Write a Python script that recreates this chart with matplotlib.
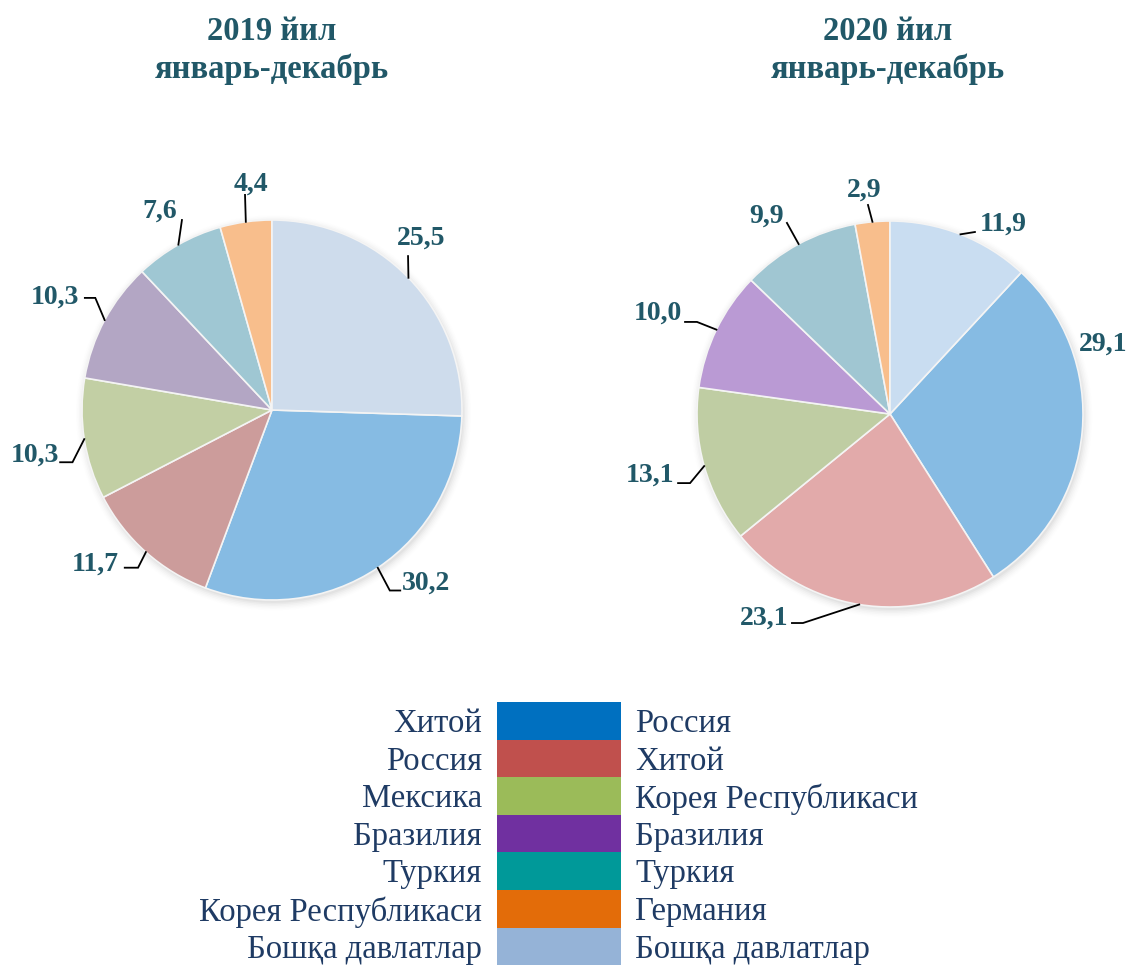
import matplotlib.pyplot as plt
import numpy as np
from matplotlib.patches import Rectangle, Circle

plt.rcParams['font.family'] = ['Liberation Serif', 'DejaVu Serif']

# Data (percent shares)
countries_2019 = ['Хитой', 'Россия', 'Мексика', 'Бразилия', 'Туркия',
                  'Корея Республикаси', 'Бошқа давлатлар']
share_2019 = [30.2, 11.7, 10.3, 10.3, 7.6, 4.4, 25.5]

countries_2020 = ['Россия', 'Хитой', 'Корея Республикаси', 'Бразилия', 'Туркия',
                  'Германия', 'Бошқа давлатлар']
share_2020 = [29.1, 23.1, 13.1, 10.0, 9.9, 2.9, 11.9]

titles = ['2019 йил\nянварь-декабрь', '2020 йил\nянварь-декабрь']

# Colours: legend swatches and the lighter pie fills
legend_colors = ['#0070C0', '#C0504D', '#9BBB59', '#7030A0', '#009999', '#E36C09', '#95B3D7']
pie_colors_2019 = ['#86BBE3', '#CC9C9B', '#C2CFA4', '#B3A6C4', '#9FC7D3', '#F8BE8C', '#CEDCEC']
pie_colors_2020 = ['#86BBE3', '#E2AAAA', '#BFCDA3', '#BA9AD4', '#A0C6D2', '#F8BE8C', '#C9DDF1']

# Label layout in units of radius: text centre and leader path after the wedge edge
layout_2019 = [
    ((0.81, -0.91), [(0.62, -0.95), (0.675, -0.95)]),
    ((-0.93, -0.81), [(-0.705, -0.83), (-0.775, -0.83)]),
    ((-1.25, -0.24), [(-1.05, -0.275), (-1.115, -0.275)]),
    ((-1.14, 0.595), [(-0.93, 0.59), (-0.985, 0.59)]),
    ((-0.59, 1.045), [(-0.474, 1.0)]),
    ((-0.11, 1.19), [(-0.142, 1.132)]),
    ((0.785, 0.905), [(0.716, 0.81)]),
]
layout_2020 = [
    ((1.104, 0.363), []),
    ((-0.653, -1.057), [(-0.451, -1.083), (-0.508, -1.083)]),
    ((-1.244, -0.316), [(-1.036, -0.358), (-1.098, -0.358)]),
    ((-1.202, 0.523), [(-1.0, 0.477), (-1.062, 0.477)]),
    ((-0.642, 1.026), [(-0.534, 0.99)]),
    ((-0.135, 1.161), [(-0.114, 1.083)]),
    ((0.585, 0.984), [(0.44, 0.943)]),
]

W, H = 1136, 965
label_color = '#215868'
legend_text_color = '#1F3B64'

fig = plt.figure(figsize=(W / 100, H / 100), dpi=100)

# overlay axes in pixel coordinates for titles and legend
bg = fig.add_axes([0, 0, 1, 1])
bg.set_xlim(0, W)
bg.set_ylim(H, 0)
bg.axis('off')


def draw_pie(cx, cy, R, values, colors, layout, title, tcx):
    k = 1.4
    half = k * R
    ax = fig.add_axes([(cx - half) / W, (H - cy - half) / H, 2 * half / W, 2 * half / H])
    # soft shadow
    for r, a in zip(np.linspace(1.0, 1.04, 6), [0.06, 0.05, 0.04, 0.03, 0.02, 0.01]):
        ax.add_patch(Circle((0.008, -0.015), r, color='#808080', alpha=a, lw=0))
    start = 90 - values[-1] * 3.6
    wedges, _ = ax.pie(values, colors=colors, startangle=start, counterclock=False,
                       radius=1.0, wedgeprops=dict(edgecolor='#F4F4F4', linewidth=1.2))
    for w, v, (tpos, path) in zip(wedges, values, layout):
        mid = np.deg2rad((w.theta1 + w.theta2) / 2)
        edge = (np.cos(mid), np.sin(mid))
        if path:
            pts = [edge] + path
            ax.plot([p[0] for p in pts], [p[1] for p in pts], color='black', lw=1.3,
                    clip_on=False, solid_joinstyle='miter')
        ax.text(tpos[0], tpos[1], f'{v:.1f}'.replace('.', ','), ha='center', va='center',
                fontsize=20, fontweight='bold', color=label_color, clip_on=False)
    ax.set_xlim(-k, k)
    ax.set_ylim(-k, k)
    ax.set_aspect('equal')
    ax.axis('off')
    line1, line2 = title.split('\n')
    bg.text(tcx, 31, line1, ha='center', va='center', fontsize=23.5, fontweight='bold', color=label_color)
    bg.text(tcx, 69, line2, ha='center', va='center', fontsize=23.5, fontweight='bold', color=label_color)


draw_pie(272, 410, 190, share_2019, pie_colors_2019, layout_2019, titles[0], 272)
draw_pie(890, 414, 193, share_2020, pie_colors_2020, layout_2020, titles[1], 888)

# legend: one swatch column shared by both years
top = 702
row_h = 37.6
for i, (c19, c20, col) in enumerate(zip(countries_2019, countries_2020, legend_colors)):
    y0 = top + i * row_h
    bg.add_patch(Rectangle((497, y0), 124, row_h, facecolor=col, edgecolor='none'))
    bg.text(482, y0 + row_h / 2 + 3, c19, ha='right', va='center', fontsize=23.5, color=legend_text_color)
    bg.text(635, y0 + row_h / 2 + 3, c20, ha='left', va='center', fontsize=23.5, color=legend_text_color)

fig.savefig('out.png', dpi=100)
